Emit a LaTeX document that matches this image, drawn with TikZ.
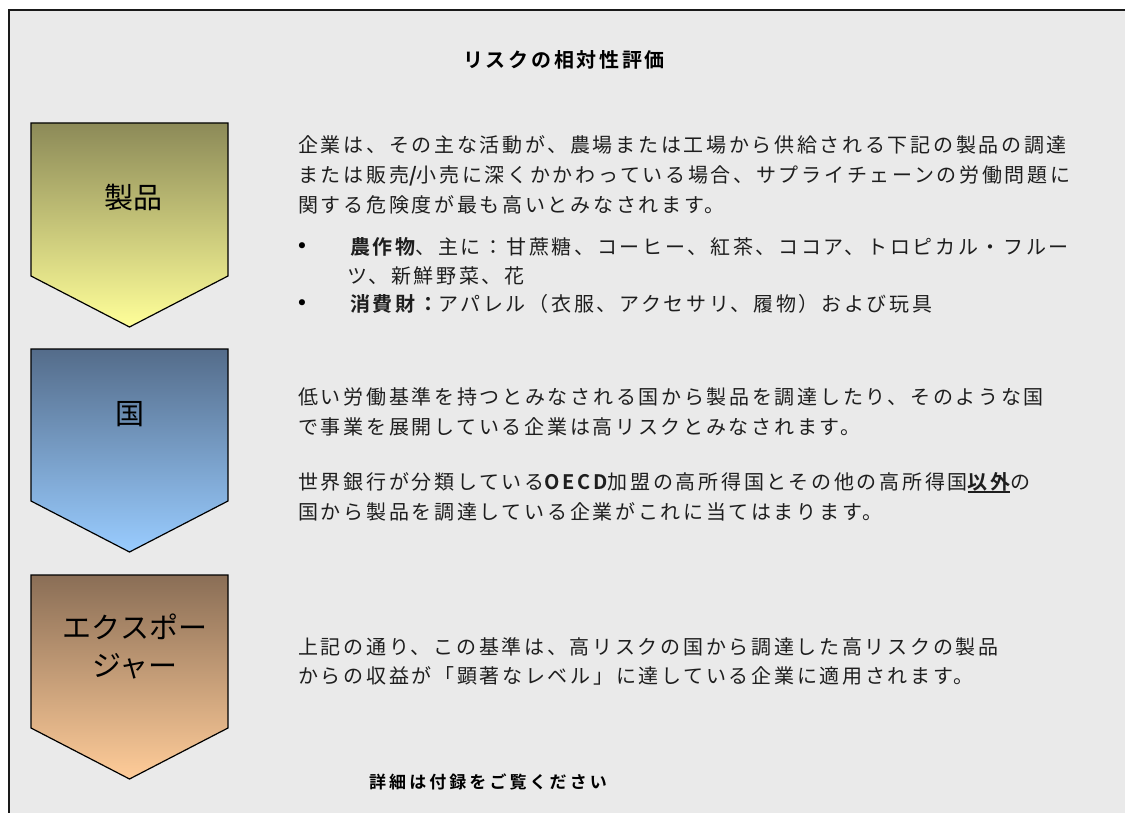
\documentclass[tikz,border=0pt]{standalone}
\usepackage{fontspec}
\newfontfamily\jp[LetterSpace=13.5,BoldFont={Noto Sans CJK JP Bold}]{Noto Sans CJK JP}
\newfontfamily\jpfoot[LetterSpace=18,BoldFont={Noto Sans CJK JP Bold}]{Noto Sans CJK JP}
\newfontfamily\jplab{Noto Sans CJK JP}
\newfontfamily\dv{DejaVu Sans}
\definecolor{bg}{HTML}{EAEAEA}
\definecolor{txt}{HTML}{1E1E1E}
\definecolor{framec}{HTML}{1A1A1A}
\definecolor{prodtop}{RGB}{140,138,88}
\definecolor{prodbot}{RGB}{255,255,153}
\definecolor{ctrytop}{RGB}{84,108,138}
\definecolor{ctrybot}{RGB}{153,204,255}
\definecolor{expotop}{RGB}{138,110,86}
\definecolor{expobot}{RGB}{255,204,153}
\newcommand\ulbold[1]{\setbox0\hbox{#1}\rlap{\rule[-3.5pt]{\wd0}{1.8pt}}\box0}
\tikzset{
  x=1pt, y=-1pt,
  bodyline/.style={anchor=base west, inner sep=0pt, text=txt, font=\jp\fontsize{20}{24}\selectfont},
  titlestyle/.style={anchor=center, inner sep=0pt, text=black, font=\jp\bfseries\fontsize{20}{24}\selectfont},
  footstyle/.style={anchor=center, inner sep=0pt, text=black, font=\jpfoot\bfseries\fontsize{17}{20}\selectfont},
  bul/.style={anchor=center, inner sep=0pt, text=black, font=\dv\fontsize{21}{24}\selectfont},
  lab/.style={anchor=center, inner sep=0pt, text=black, align=center, font=\jplab\fontsize{29}{38}\selectfont},
  chevron/.style={draw=black, line width=1.2pt, line join=miter}
}
\begin{document}
\begin{tikzpicture}
\useasboundingbox (0,0) rectangle (1125,813);
\fill[white] (0,0) rectangle (1125,813);
\fill[bg] (9,10) rectangle (1125,813);
\draw[framec, line width=2.2pt] (9,813) -- (9,10) -- (1125,10);

% title
\node[titlestyle] (title) at (564,60) {リスクの相対性評価};

% chevrons
\path[chevron, top color=prodtop, bottom color=prodbot]
  (31,123) -- (228,123) -- (228,276) -- (129.5,327) -- (31,276) -- cycle;
\path[chevron, top color=ctrytop, bottom color=ctrybot]
  (31,349) -- (228,349) -- (228,501) -- (129.5,552) -- (31,501) -- cycle;
\path[chevron, top color=expotop, bottom color=expobot]
  (31,575) -- (228,575) -- (228,728) -- (129.5,779) -- (31,728) -- cycle;

\node[lab] (prod) at (133,198) {製品};
\node[lab] (country) at (130,414) {国};
\node[lab] (expo) at (135,646) {エクスポー\\ジャー};

% block 1
\node[bodyline] (p1a) at (298,152.6) {企業は、その主な活動が、農場または工場から供給される下記の製品の調達};
\node[bodyline] (p1b) at (298,182.6) {または販売{\bfseries /}小売に深くかかわっている場合、サプライチェーンの労働問題に};
\node[bodyline] (p1c) at (298,212.6) {関する危険度が最も高いとみなされます。};
\node[bul] (b1) at (302,248) {•};
\node[bodyline] (l1a) at (350,254.6) {{\bfseries 農作物}、主に：甘蔗糖、コーヒー、紅茶、ココア、トロピカル・フルー};
\node[bodyline] (l1b) at (347,283.6) {ツ、新鮮野菜、花};
\node[bul] (b2) at (302,305) {•};
\node[bodyline] (l2) at (350,311.6) {{\bfseries 消費財：}アパレル（衣服、アクセサリ、履物）および玩具};

% block 2
\node[bodyline] (p2a) at (298,404.6) {低い労働基準を持つとみなされる国から製品を調達したり、そのような国};
\node[bodyline] (p2b) at (298,434.6) {で事業を展開している企業は高リスクとみなされます。};
\node[bodyline] (p2c) at (298,489.6) {世界銀行が分類している{\bfseries OECD}加盟の高所得国とその他の高所得国\ulbold{\bfseries 以外}の};
\node[bodyline] (p2d) at (298,519.6) {国から製品を調達している企業がこれに当てはまります。};

% block 3
\node[bodyline] (p3a) at (298,654.6) {上記の通り、この基準は、高リスクの国から調達した高リスクの製品};
\node[bodyline] (p3b) at (298,683.6) {からの収益が「顕著なレベル」に達している企業に適用されます。};

% footer
\node[footstyle] (foot) at (488,782) {詳細は付録をご覧ください};
\end{tikzpicture}
\end{document}
